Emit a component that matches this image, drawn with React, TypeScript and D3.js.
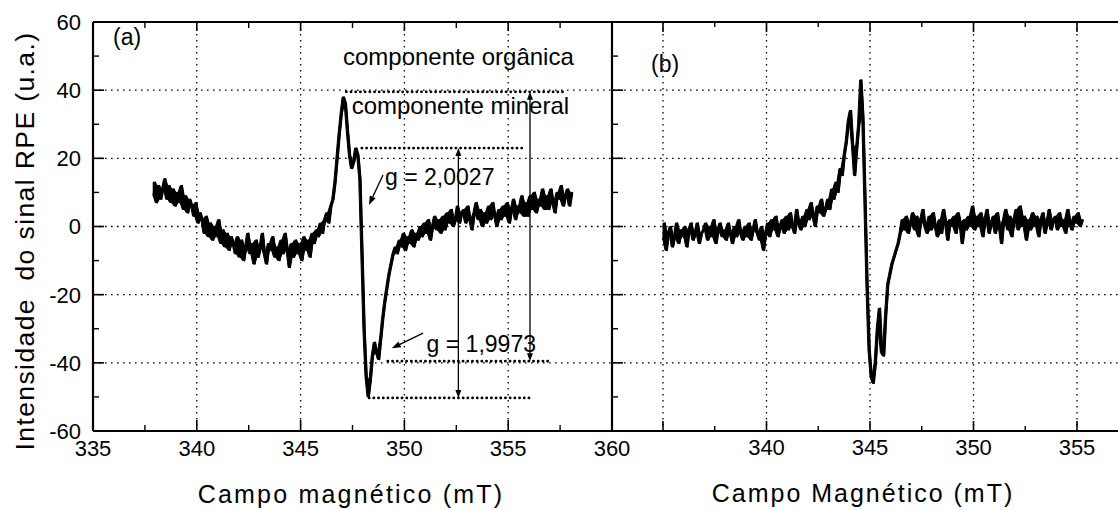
import React from 'react';
import * as d3 from 'd3';

// EPR spectra, sampled every 0.1 mT
const STEP = 0.1;
const FIELD_A_START = 337.9;
const signalA = [
  9, 13, 7, 12, 8, 11, 14, 8, 12, 7,
  11, 6, 10, 7, 12, 5, 9, 4, 8, 6,
  3, 7, 1, 4, 2, -2, 3, -3, 1, -4,
  0, -3, 2, -5, -1, -6, -2, -7, -3, -5,
  -8, -3, -9, -4, -10, -6, -2, -8, -5, -11,
  -4, -9, -6, -2, -8, -11, -5, -7, -3, -9,
  -6, -10, -4, -8, -2, -7, -12, -5, -9, -4,
  -8, -5, -10, -3, -7, -4, -9, -2, -5, -1,
  -3, 1, -2, 2, 4, 1, 6, 8, 13, 20,
  27, 33, 38, 36, 28, 21, 17, 19, 23, 21,
  14, -8, -30, -44, -50, -45, -38, -34, -37, -39,
  -33, -27, -22, -18, -14, -11, -8, -6, -8, -4,
  -6, -2, -7, -3, -5, -1, -6, -2, -4, 0,
  -3, 1, -2, 2, -4, 0, 3, -1, 2, -2,
  3, -1, 4, 1, 5, 0, 2, 6, 1, 4,
  5, 1, 6, 2, -1, 4, 7, 2, 5, 0,
  4, 1, 6, 2, 7, 3, 0, 5, 2, 6,
  3, 7, 1, 5, 8, 2, 6, 4, 9, 3,
  7, 3, 9, 5, 10, 4, 8, 6, 11, 5,
  9, 5, 11, 7, 4, 10, 8, 12, 6, 9,
  11, 6, 10,
];

const FIELD_B_START = 335.0;
const signalB = [
  -4, 1, -7, -2, 0, -6, -3, 1, -5, -1,
  -3, 0, -6, -1, 1, -4, -2, 1, -5, -2,
  -1, 1, -4, 0, -3, 2, -5, -1, 1, -3,
  -1, -4, 1, -2, -5, 0, -3, 2, -2, -4,
  0, -3, 1, -4, -1, 2, -2, -4, 0, -7,
  -2, 1, -3, 2, -1, 3, -3, 0, 2, -2,
  3, -1, 4, 0, -2, 5, 1, -1, 3, 0,
  5, 2, 7, 3, 0, 6, 4, 8, 3, 5,
  8, 5, 11, 8, 13, 10, 17, 15, 21, 25,
  31, 34, 24, 15, 23, 30, 43, 32, 8, -17,
  -36, -44, -46, -40, -30, -24, -37, -38, -26, -17,
  -14, -11, -9, -7, -5, -2, 2, -1, 3, -2,
  1, 4, -1, 3, -3, 2, 5, 0, -2, 3,
  -1, 4, 0, -3, 2, -2, 5, 1, -4, 2,
  0, 3, -2, 4, 1, -5, 2, -1, 3, 0,
  6, -1, 3, 0, 4, -3, 2, 5, -2, 1,
  3, -2, 4, 0, -5, 2, 5, -1, 3, -3,
  2, 5, -1, 6, 0, 3, -4, 2, -1, 4,
  0, 3, -3, 2, 4, -2, 1, 5, -1, 2,
  3, -1, 4, 0, 2, -2, 5, 1, -1, 3,
  1, 4, 0, 2,
];

const yTicks = [-60, -40, -20, 0, 20, 40, 60];
const yMinorTicks = [-50, -30, -10, 10, 30, 50];
const yGrid = [-40, -20, 0, 20, 40];
const xTicksA = [335, 340, 345, 350, 355, 360];
const xMinorA = [337.5, 342.5, 347.5, 352.5, 357.5];
const xGridA = [340, 345, 350, 355];
const xTicksB = [335, 340, 345, 350, 355];
const xTickLabelsB = ['', '340', '345', '350', '355'];
const xMinorB = [337.5, 342.5, 347.5, 352.5];

// Reference levels of the two components (panel a)
const levelY = [39.5, 23, -39.5, -50.3];
const levelFrom = [347.2, 347.95, 349.2, 348.3];
const levelTo = [357.7, 355.8, 357.1, 356.05];

// Peak-to-peak amplitude arrows
const ampX = [356.05, 352.6];
const ampTop = [39.5, 23];
const ampBottom = [-39.5, -50.3];

// g-factor labels with pointer arrows
const gLabels = ['g = 2,0027', 'g = 1,9973'];
const gLabelX = [349.07, 351.07];
const gLabelY = [12.2, -36.9];
const gArrowFromX = [348.97, 350.9];
const gArrowFromY = [15.1, -31.3];
const gArrowToX = [348.29, 349.39];
const gArrowToY = [6.3, -35.7];

const FONT = "'Liberation Sans', Arial, Helvetica, sans-serif";

type Sample = { f: number; v: number; lo: number; hi: number };

// Each sample spans the vertical range swept between it and the next one,
// so that the noisy recording renders as a filled trace.
function toSamples(start: number, values: number[]): Sample[] {
  return values.map((v, i) => {
    const next = i + 1 < values.length ? values[i + 1] : v;
    return { f: start + i * STEP, v, lo: Math.min(v, next), hi: Math.max(v, next) };
  });
}

export default function App() {
  const W = 1118;
  const H = 510;
  const top = 22;
  const bottom = 431;
  const xA = d3.scaleLinear().domain([335, 360]).range([93, 612]);
  const xB = d3.scaleLinear().domain([335, 355]).range([663, 1077]);
  const y = d3.scaleLinear().domain([-60, 60]).range([bottom, top]);
  const leftA = xA(335);
  const mid = xA(360);

  const samplesA = toSamples(FIELD_A_START, signalA);
  const samplesB = toSamples(FIELD_B_START, signalB);

  const makeLine = (x: d3.ScaleLinear<number, number>) =>
    d3
      .line<Sample>()
      .x((d) => x(d.f))
      .y((d) => y(d.v));
  const makeBand = (x: d3.ScaleLinear<number, number>) =>
    d3
      .area<Sample>()
      .x((d) => x(d.f))
      .y0((d) => y(d.lo))
      .y1((d) => y(d.hi));

  const gridStyle = {
    stroke: '#000',
    strokeWidth: 1.3,
    strokeDasharray: '1.6 4.4',
    fill: 'none',
  };
  const levelStyle = {
    stroke: '#000',
    strokeWidth: 2.8,
    strokeDasharray: '0.1 4.6',
    strokeLinecap: 'round' as const,
    fill: 'none',
  };

  const arrowHead = (x: number, yy: number, dir: number, len = 8, half = 3) =>
    `M${x},${yy} L${x - half},${yy - dir * len} L${x + half},${yy - dir * len} Z`;

  const pointer = (x1: number, y1: number, x2: number, y2: number) => {
    const ang = Math.atan2(y2 - y1, x2 - x1);
    const len = 9;
    const half = 3.2;
    const bx = x2 - len * Math.cos(ang);
    const by = y2 - len * Math.sin(ang);
    const px = -Math.sin(ang) * half;
    const py = Math.cos(ang) * half;
    return {
      line: `M${x1},${y1} L${bx},${by}`,
      head: `M${x2},${y2} L${bx + px},${by + py} L${bx - px},${by - py} Z`,
    };
  };

  return (
    <svg
      width={W}
      height={H}
      style={{ position: 'absolute', left: 0, top: 0, background: '#fff' }}
      fontFamily={FONT}
    >
      <rect x={0} y={0} width={W} height={H} fill="#fff" />

      {/* grid, panel a */}
      {yGrid.map((v) => (
        <line key={'gya' + v} x1={leftA} x2={mid} y1={y(v)} y2={y(v)} style={gridStyle} />
      ))}
      {xGridA.map((v) => (
        <line key={'gxa' + v} x1={xA(v)} x2={xA(v)} y1={top} y2={bottom} style={gridStyle} />
      ))}
      {/* grid, panel b */}
      {yGrid.map((v) => (
        <line key={'gyb' + v} x1={mid} x2={W} y1={y(v)} y2={y(v)} style={gridStyle} />
      ))}
      {xTicksB.map((v) => (
        <line key={'gxb' + v} x1={xB(v)} x2={xB(v)} y1={top} y2={bottom} style={gridStyle} />
      ))}

      {/* frames */}
      <path
        d={`M${leftA},${top} L${W},${top} M${leftA},${bottom} L${W},${bottom} M${leftA},${top} L${leftA},${bottom} M${mid},${top} L${mid},${bottom}`}
        stroke="#000"
        strokeWidth={2.2}
        fill="none"
      />

      {/* ticks, panel a */}
      {xTicksA.map((v) => (
        <g key={'txa' + v}>
          <line x1={xA(v)} x2={xA(v)} y1={bottom} y2={bottom - 11} stroke="#000" strokeWidth={1.6} />
          <line x1={xA(v)} x2={xA(v)} y1={top} y2={top + 9} stroke="#000" strokeWidth={1.6} />
        </g>
      ))}
      {xMinorA.map((v) => (
        <g key={'mxa' + v}>
          <line x1={xA(v)} x2={xA(v)} y1={bottom} y2={bottom - 6} stroke="#000" strokeWidth={1.4} />
          <line x1={xA(v)} x2={xA(v)} y1={top} y2={top + 6} stroke="#000" strokeWidth={1.4} />
        </g>
      ))}
      {yTicks.map((v) => (
        <g key={'tya' + v}>
          <line x1={leftA} x2={leftA + 11} y1={y(v)} y2={y(v)} stroke="#000" strokeWidth={1.6} />
          <line x1={mid} x2={mid + 11} y1={y(v)} y2={y(v)} stroke="#000" strokeWidth={1.6} />
        </g>
      ))}
      {yMinorTicks.map((v) => (
        <g key={'mya' + v}>
          <line x1={leftA} x2={leftA + 6} y1={y(v)} y2={y(v)} stroke="#000" strokeWidth={1.4} />
          <line x1={mid} x2={mid + 6} y1={y(v)} y2={y(v)} stroke="#000" strokeWidth={1.4} />
        </g>
      ))}
      {/* ticks, panel b */}
      {xTicksB.map((v) => (
        <g key={'txb' + v}>
          <line x1={xB(v)} x2={xB(v)} y1={bottom} y2={bottom - 10} stroke="#000" strokeWidth={1.6} />
          <line x1={xB(v)} x2={xB(v)} y1={top} y2={top + 10} stroke="#000" strokeWidth={1.6} />
        </g>
      ))}
      {xMinorB.map((v) => (
        <g key={'mxb' + v}>
          <line x1={xB(v)} x2={xB(v)} y1={bottom} y2={bottom - 5} stroke="#000" strokeWidth={1.4} />
          <line x1={xB(v)} x2={xB(v)} y1={top} y2={top + 5} stroke="#000" strokeWidth={1.4} />
        </g>
      ))}

      {/* tick labels */}
      {yTicks.map((v) => (
        <text key={'lya' + v} x={81} y={y(v)} dy="0.36em" textAnchor="end" fontSize={22}>
          {v}
        </text>
      ))}
      {xTicksA.map((v) => (
        <text key={'lxa' + v} x={xA(v)} y={456} textAnchor="middle" fontSize={22}>
          {v}
        </text>
      ))}
      {xTicksB.map((v, i) => (
        <text key={'lxb' + v} x={xB(v)} y={455} textAnchor="middle" fontSize={22}>
          {xTickLabelsB[i]}
        </text>
      ))}

      {/* axis titles */}
      <text
        transform={`translate(34,241) rotate(-90)`}
        textAnchor="middle"
        fontSize={26.5}
        letterSpacing={1.4}
        style={{ whiteSpace: 'pre' }}
      >
        {'Intensidade  do sinal RPE (u.a.)'}
      </text>
      <text x={351} y={503} textAnchor="middle" fontSize={25} letterSpacing={2.2}>
        Campo magnético (mT)
      </text>
      <text x={863} y={502} textAnchor="middle" fontSize={25} letterSpacing={2.0}>
        Campo Magnético (mT)
      </text>

      {/* panel letters */}
      <text x={113} y={45} fontSize={23}>(a)</text>
      <text x={651} y={72} fontSize={23}>(b)</text>

      {/* spectra */}
      <path d={makeBand(xA)(samplesA) ?? ''} fill="#000" stroke="#000" strokeWidth={1} />
      <path d={makeLine(xA)(samplesA) ?? ''} fill="none" stroke="#000" strokeWidth={1.6} strokeLinejoin="round" />
      <path d={makeBand(xB)(samplesB) ?? ''} fill="#000" stroke="#000" strokeWidth={1} />
      <path d={makeLine(xB)(samplesB) ?? ''} fill="none" stroke="#000" strokeWidth={1.6} strokeLinejoin="round" />

      {/* component levels */}
      {levelY.map((v, i) => (
        <line key={'lvl' + i} x1={xA(levelFrom[i])} x2={xA(levelTo[i])} y1={y(v)} y2={y(v)} style={levelStyle} />
      ))}
      {ampX.map((v, i) => (
        <g key={'amp' + i}>
          <line x1={xA(v)} x2={xA(v)} y1={y(ampTop[i]) + 6} y2={y(ampBottom[i]) - 6} stroke="#000" strokeWidth={1.3} />
          <path d={arrowHead(xA(v), y(ampTop[i]), -1)} fill="#000" />
          <path d={arrowHead(xA(v), y(ampBottom[i]), 1)} fill="#000" />
        </g>
      ))}

      {/* component labels */}
      <text x={xA(347.04)} y={y(47.5)} fontSize={24}>componente orgânica</text>
      <text x={xA(347.46)} y={y(33.1)} fontSize={24}>componente mineral</text>

      {gLabels.map((t, i) => {
        const p = pointer(xA(gArrowFromX[i]), y(gArrowFromY[i]), xA(gArrowToX[i]), y(gArrowToY[i]));
        return (
          <g key={'g' + i}>
            <text x={xA(gLabelX[i])} y={y(gLabelY[i])} fontSize={23}>
              {t}
            </text>
            <path d={p.line} stroke="#000" strokeWidth={1.3} fill="none" />
            <path d={p.head} fill="#000" />
          </g>
        );
      })}
    </svg>
  );
}
